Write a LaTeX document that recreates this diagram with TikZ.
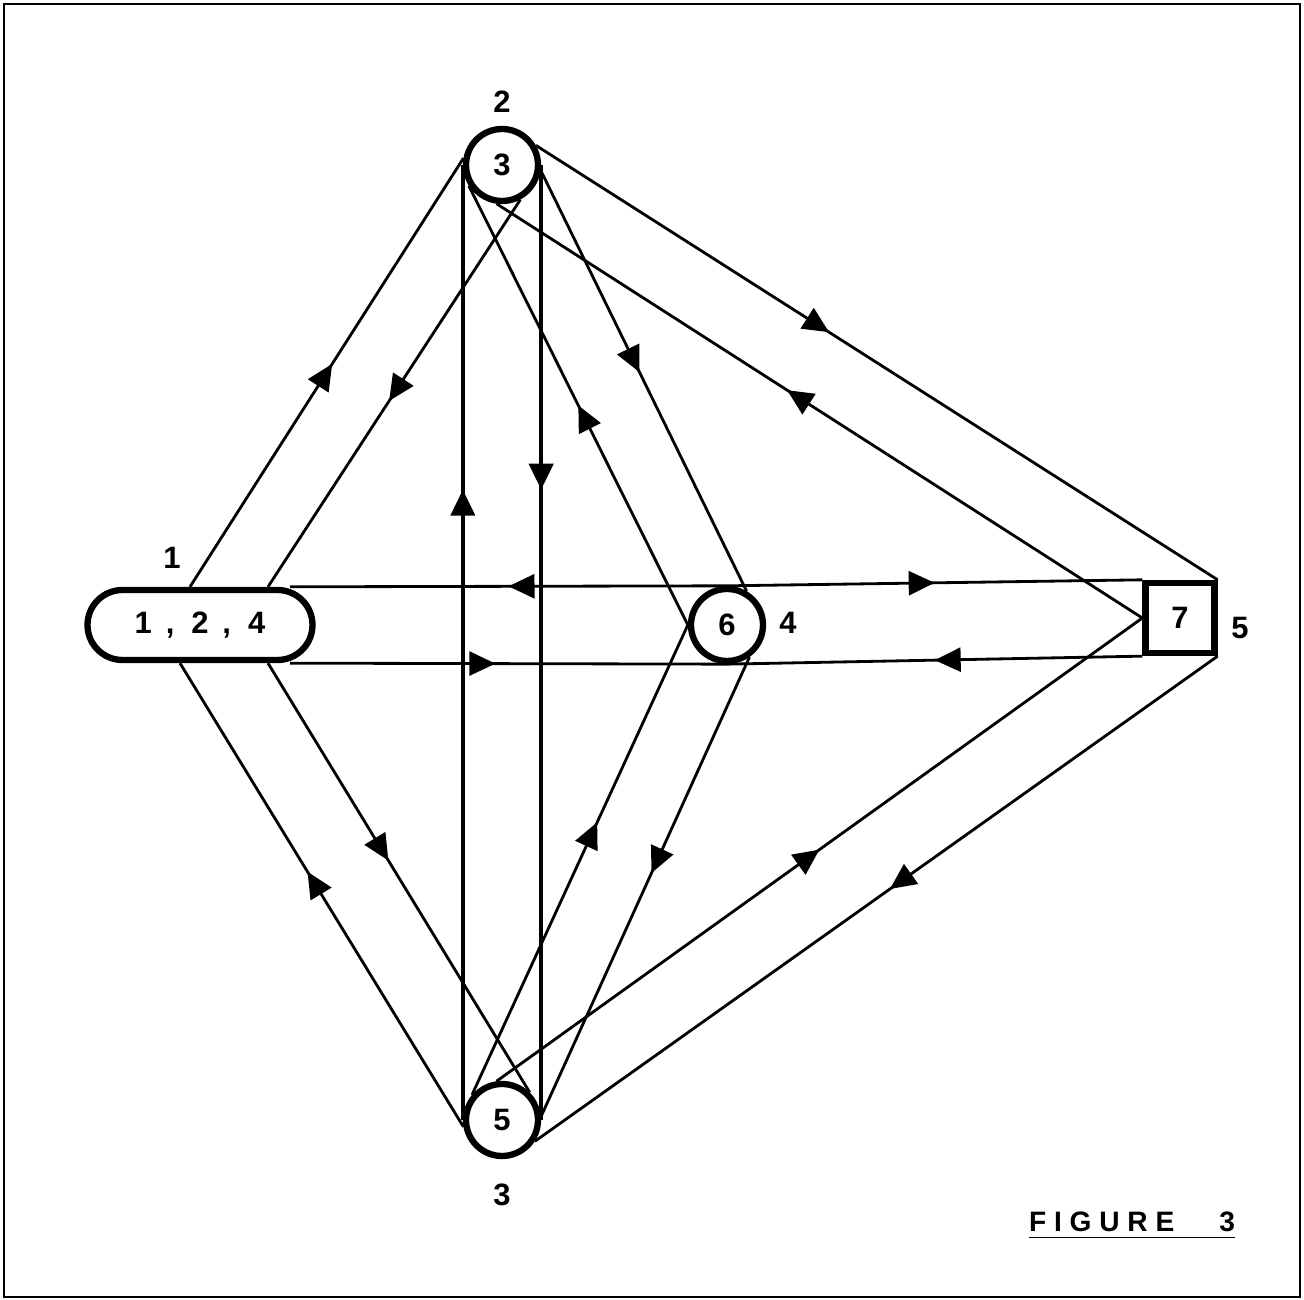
\documentclass[tikz,border=0pt]{standalone}
\usepackage{fontspec}
\setmainfont{Liberation Sans}
\usetikzlibrary{arrows.meta,decorations.markings}

\begin{document}
\begin{tikzpicture}[
    font=\bfseries\fontsize{8.8}{10}\selectfont,
    box/.style={draw, line width=1.8pt, inner sep=0pt},
    ring/.style={circle, draw, line width=1.8pt, minimum size=7.2mm, inner sep=0pt},
    tag/.style={inner sep=0pt},
    flow/.style={line width=0.8pt, postaction={decorate},
        decoration={markings, mark=at position #1 with {\arrow{Triangle[length=2.6mm, width=2.4mm]}}}},
    flow/.default=0.5
]

    % Page and frame
    \useasboundingbox (0,0) rectangle (13.04,-13.00);
    \draw[line width=0.7pt] (0.04,-0.04) rectangle (13.00,-12.97);

    % Nodes
    \node[box, rounded corners=3.5mm, minimum width=22.5mm, minimum height=7mm] (src) at (2.00,-6.25)
        {1\hspace{0.45em},\hspace{0.55em}2\hspace{0.45em},\hspace{0.55em}4};
    \node[ring] (top) at (5.02,-1.65) {3};
    \node[ring] (mid) at (7.27,-6.25) {6};
    \node[box, minimum width=6.9mm, minimum height=7mm] (sink) at (11.80,-6.18) {7};
    \node[ring] (bot) at (5.02,-11.20) {5};

    % Node numbers
    \node[tag] (n1) at (1.72,-5.58) {1};
    \node[tag] (n2) at (5.02,-1.02) {2};
    \node[tag] (n4) at (7.88,-6.23) {4};
    \node[tag] (n5) at (12.40,-6.28) {5};
    \node[tag] (n3) at (5.02,-11.95) {3};

    % Left pair (src - top)
    \draw[flow=0.52] ([xshift=-1mm]src.north) -- (top.170);
    \draw[flow=0.52] (top.-62) -- ([xshift=6.8mm]src.north);

    % Verticals (top - bot)
    \draw[flow=0.66, line width=1.2pt] (bot.west) -- (top.west);
    \draw[flow=0.34, line width=1.2pt] (top.east) -- (bot.east);

    % top - mid
    \draw[flow=0.5] (mid.west) -- (top.-148);
    \draw[flow=0.48] (top.-8) -- (mid.60);

    % top - sink
    \draw[flow=0.43] (top.30) -- (sink.north east);
    \draw[flow=0.55] (sink.west) -- (top.-98);

    % Horizontals through mid
    \draw[flow=0.5] (mid.north) -- ([xshift=9mm]src.north);
    \draw[flow=0.5] (mid.north) -- (sink.north west);
    \draw[flow=0.47] ([xshift=9mm]src.south) -- (mid.south);
    \draw[flow=0.5] (sink.south west) -- (mid.south);

    % src - bot
    \draw[flow=0.55] (bot.190) -- ([xshift=-2mm]src.south);
    \draw[flow=0.46] ([xshift=6.8mm]src.south) -- (bot.45);

    % mid - bot
    \draw[flow=0.58] (bot.140) -- (mid.west);
    \draw[flow=0.47] (mid.-55) -- (bot.5);

    % sink - bot
    \draw[flow=0.5] (bot.98) -- (sink.west);
    \draw[flow=0.48] (sink.south east) -- (bot.-33);

    % Caption
    \node[anchor=base] (caption) at (11.32,-12.32)
        {\fontsize{8}{10}\selectfont\underline{F I G U R E\hspace{1.6em}3}};

\end{tikzpicture}
\end{document}
